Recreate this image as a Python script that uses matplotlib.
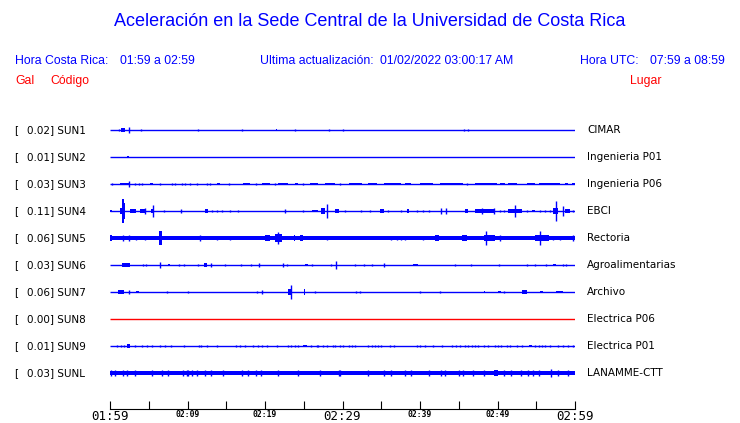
import matplotlib
matplotlib.use('Agg')
import matplotlib.pyplot as plt

titulo = 'Aceleración en la Sede Central de la Universidad de Costa Rica'
hora_cr = '01:59 a 02:59'
hora_utc = '07:59 a 08:59'
actualizacion = '01/02/2022 03:00:17 AM'

codigos = ['SUN1', 'SUN2', 'SUN3', 'SUN4', 'SUN5', 'SUN6', 'SUN7', 'SUN8', 'SUN9', 'SUNL']
gal = [0.02, 0.01, 0.03, 0.11, 0.06, 0.03, 0.06, 0.00, 0.01, 0.03]
lugares = ['CIMAR', 'Ingenieria P01', 'Ingenieria P06', 'EBCI', 'Rectoria',
           'Agroalimentarias', 'Archivo', 'Electrica P06', 'Electrica P01', 'LANAMME-CTT']
horas = ['01:59', '02:09', '02:19', '02:29', '02:39', '02:49', '02:59']

# ancho de la banda de ruido de fondo (fraccion de media fila)
ruido = [0, 0, 0, 0, 0.13, 0, 0, 0, 0, 0.12]

# eventos: (minuto, amplitud) o (min_ini, min_fin, amplitud)
sun1 = [(1.1, 0.07), (1.4, 1.9, 0.12), (2.4, 0.2), (4.0, 0.07), (11.4, 0.1), (17.0, 0.1),
        (21.4, 21.6, 0.1), (23.9, 0.07), (28.3, 0.1), (30.0, 0.07), (45.7, 0.1), (46.2, 0.1)]
sun2 = [(2.2, 2.4, 0.1)]
sun3 = [(0.2, 0.07), (1.3, 2.6, 0.1), (2.4, 0.25), (3.2, 0.07), (3.7, 0.07), (4.1, 0.07),
        (5.2, 5.6, 0.1), (6.5, 0.1), (8.0, 0.07), (8.4, 0.07), (9.3, 0.07), (9.7, 0.07),
        (10.3, 0.07), (11.2, 0.07), (12.5, 0.07), (12.9, 0.07), (13.8, 14.2, 0.1), (15.3, 0.07),
        (17.2, 18.1, 0.1), (18.9, 0.07), (19.6, 20.6, 0.1), (21.3, 0.07), (21.7, 23.0, 0.1),
        (23.9, 24.3, 0.07), (24.9, 0.07), (25.8, 26.9, 0.1), (27.7, 29.0, 0.1), (29.7, 0.07),
        (30.8, 32.5, 0.08), (33.3, 34.4, 0.08), (35.3, 37.6, 0.1), (38.1, 38.9, 0.1),
        (40.0, 41.7, 0.1), (42.6, 45.6, 0.1), (46.0, 0.07), (47.1, 49.9, 0.1), (50.3, 51.0, 0.1),
        (51.4, 52.5, 0.1), (53.8, 54.8, 0.1), (55.3, 58.1, 0.1), (58.7, 59.1, 0.1), (59.6, 60.0, 0.1)]
sun4 = [(0.0, 0.3, 0.1), (1.3, 1.9, 0.2), (1.6, 1.8, 0.86), (1.8, 1.9, 0.62), (2.6, 3.4, 0.12),
        (3.9, 4.7, 0.12), (4.5, 0.25), (5.3, 5.7, 0.12), (5.6, 0.42), (7.0, 0.05), (9.2, 0.12),
        (12.3, 12.7, 0.12), (13.1, 0.07), (13.8, 0.07), (14.4, 0.07), (15.5, 0.1), (16.5, 0.1),
        (22.6, 0.12), (24.9, 0.07), (26.0, 26.9, 0.07), (27.2, 27.7, 0.25), (28.0, 0.49),
        (29.0, 29.5, 0.12), (30.3, 0.1), (32.4, 0.07), (33.5, 0.07), (34.8, 35.4, 0.12),
        (35.9, 0.07), (37.6, 0.1), (38.3, 38.6, 0.12), (39.6, 0.1), (40.4, 0.1), (41.1, 0.1),
        (42.7, 0.2), (43.4, 0.2), (45.8, 46.2, 0.12), (47.1, 49.7, 0.12), (48.0, 0.2), (49.5, 0.2),
        (50.3, 0.07), (50.8, 0.07), (51.4, 53.1, 0.12), (52.3, 0.42), (53.8, 0.07),
        (54.4, 54.8, 0.1), (55.5, 0.07), (56.1, 0.07), (56.8, 0.07), (57.2, 57.8, 0.25),
        (57.5, 0.74), (58.4, 0.37), (58.7, 59.4, 0.12), (59.8, 0.07)]
sun5 = [(0.0, 0.2, 0.25), (1.7, 0.25), (2.4, 0.2), (3.4, 0.17), (4.5, 0.17), (5.4, 6.2, 0.17),
        (6.3, 6.7, 0.49), (11.6, 0.25), (13.8, 0.17), (15.5, 0.17), (20.0, 20.6, 0.25),
        (21.3, 22.2, 0.3), (21.7, 0.42), (23.7, 23.9, 0.25), (24.5, 24.9, 0.25), (28.0, 0.17),
        (36.3, 0.17), (37.0, 0.17), (37.6, 0.17), (38.1, 0.17), (40.4, 0.17), (41.9, 42.4, 0.2),
        (45.4, 46.0, 0.25), (48.2, 49.7, 0.25), (48.5, 0.49), (50.3, 0.25), (54.8, 56.6, 0.25),
        (55.5, 0.54), (57.2, 0.17), (58.1, 0.17), (59.8, 0.2)]
sun6 = [(1.6, 2.6, 0.12), (4.2, 0.1), (4.65, 0.1), (6.5, 0.2), (7.5, 7.8, 0.1), (8.9, 0.1),
        (9.55, 0.1), (11.3, 0.07), (12.1, 12.5, 0.12), (13.0, 0.17), (14.8, 0.1), (16.9, 0.1),
        (18.2, 0.07), (19.2, 0.12), (22.3, 0.17), (22.9, 0.07), (25.2, 25.6, 0.1), (26.1, 0.07),
        (28.5, 0.1), (29.2, 0.3), (31.6, 0.1), (32.8, 0.07), (33.8, 0.1), (35.4, 0.12),
        (39.1, 39.8, 0.1), (44.5, 0.1), (46.6, 0.1), (50.2, 0.07), (53.8, 0.07), (54.8, 0.05),
        (56.3, 0.05), (57.2, 57.5, 0.1), (58.4, 0.1), (58.9, 0.1)]
sun7 = [(1.0, 1.85, 0.12), (2.4, 0.15), (3.3, 3.7, 0.1), (7.3, 0.1), (10.0, 0.05), (19.0, 0.05),
        (19.6, 0.15), (23.0, 23.4, 0.25), (23.3, 0.49), (25.0, 25.2, 0.2), (26.5, 0.05),
        (31.8, 0.07), (32.3, 0.1), (40.0, 0.05), (42.6, 0.05), (48.2, 48.4, 0.1),
        (50.1, 50.5, 0.1), (50.8, 0.07), (53.1, 53.8, 0.15), (55.5, 55.9, 0.1), (57.6, 58.5, 0.07)]
sun8 = []
sun9 = [(0.86, 0.07), (1.38, 0.07), (1.85, 0.07), (2.15, 2.58, 0.12), (3.23, 0.07), (4.09, 0.07),
        (4.73, 0.07), (5.38, 0.07), (6.45, 0.07), (7.1, 0.07), (7.87, 0.07), (9.59, 0.07),
        (11.5, 0.07), (11.8, 0.07), (12.5, 0.07), (13.8, 0.07), (16.3, 0.07), (16.8, 0.07),
        (17.4, 0.07), (18.5, 0.07), (19.1, 0.07), (19.6, 0.07), (20.3, 0.07), (21.5, 0.07),
        (23.0, 0.07), (23.4, 0.07), (23.9, 0.07), (24.2, 0.07), (24.9, 25.4, 0.07), (25.9, 0.07),
        (26.7, 0.07), (26.9, 0.07), (27.5, 0.07), (28.0, 0.07), (28.8, 0.07), (29.0, 0.07),
        (29.7, 0.07), (30.1, 0.07), (30.8, 0.07), (31.2, 0.07), (31.6, 0.07), (33.3, 0.07),
        (33.8, 0.07), (34.2, 0.07), (34.6, 0.07), (35.0, 0.07), (36.1, 0.07), (36.6, 0.07),
        (39.6, 0.07), (40.0, 0.07), (40.6, 0.07), (41.7, 0.07), (42.8, 0.07), (44.1, 0.07),
        (44.7, 0.07), (45.2, 0.07), (45.8, 0.07), (46.2, 0.07), (46.7, 0.07), (47.1, 0.07),
        (47.5, 0.07), (48.2, 0.07), (48.8, 0.07), (49.7, 0.07), (50.1, 0.07), (50.5, 0.07),
        (51.2, 0.07), (51.6, 0.07), (52.5, 0.07), (53.1, 0.07), (54.0, 54.4, 0.07), (54.8, 0.07),
        (55.3, 0.07), (55.7, 0.07), (56.1, 0.07), (56.8, 0.07), (57.8, 0.07), (58.5, 0.07),
        (59.1, 0.07), (59.8, 0.07)]
sunl = [(0.1, 0.2), (0.65, 0.2), (1.72, 0.2), (2.24, 0.25), (3.23, 0.2), (5.38, 0.2), (6.67, 0.2),
        (7.53, 0.2), (9.46, 0.2), (9.89, 0.2), (10.1, 0.2), (10.6, 0.2), (11.2, 0.2), (12.3, 0.2),
        (13.0, 0.2), (14.6, 0.2), (17.0, 0.25), (17.8, 0.2), (18.9, 0.2), (19.5, 0.25), (21.7, 0.2),
        (24.3, 0.2), (27.1, 0.2), (29.5, 0.2), (29.7, 0.2), (33.3, 0.25), (35.3, 0.2), (36.3, 0.2),
        (38.1, 0.2), (38.8, 0.2), (41.1, 0.2), (42.7, 0.25), (43.2, 0.2), (45.0, 0.2), (45.6, 0.2),
        (46.9, 0.2), (48.2, 0.2), (49.5, 50.1, 0.2), (50.8, 0.2), (51.8, 0.2), (53.0, 0.2),
        (53.9, 0.2), (54.6, 0.2), (55.3, 0.2), (56.9, 0.3), (57.8, 0.2), (59.1, 0.2)]
eventos = [sun1, sun2, sun3, sun4, sun5, sun6, sun7, sun8, sun9, sunl]


def dibujar_traza(ax, y, evs, banda, color):
    ax.plot([0, 60], [y, y], color=color, lw=1.0, solid_capstyle='butt')
    if banda > 0:
        ax.fill_between([0, 60], y - banda * 0.5, y + banda * 0.5, color=color, lw=0)
    for ev in evs:
        if len(ev) == 2:
            t, a = ev
            ax.vlines(t, y - a * 0.5, y + a * 0.5, color=color, lw=1.0)
        else:
            t0, t1, a = ev
            ax.fill_between([t0, t1], y - a * 0.5, y + a * 0.5, color=color, lw=0)


W, H = 740, 423
fig = plt.figure(figsize=(W / 100, H / 100), dpi=100)
azul = '#0000ff'
rojo = '#ff0000'
sans = 'Liberation Sans'

fig.text(370 / W, 1 - 22 / H, titulo, color=azul, fontsize=13, family=sans, ha='center', va='center')
y1 = 1 - 61 / H
y2 = 1 - 81 / H
fig.text(15 / W, y1, 'Hora Costa Rica:', color=azul, fontsize=8.8, family=sans, va='center')
fig.text(120 / W, y1, hora_cr, color=azul, fontsize=8.8, family=sans, va='center')
fig.text(260 / W, y1, 'Ultima actualización:', color=azul, fontsize=8.8, family=sans, va='center')
fig.text(380 / W, y1, actualizacion, color=azul, fontsize=8.8, family=sans, va='center')
fig.text(580 / W, y1, 'Hora UTC:', color=azul, fontsize=8.8, family=sans, va='center')
fig.text(650 / W, y1, hora_utc, color=azul, fontsize=8.8, family=sans, va='center')
fig.text(15 / W, y2, 'Gal', color=rojo, fontsize=8.8, family=sans, va='center')
fig.text(50 / W, y2, 'Código', color=rojo, fontsize=8.8, family=sans, va='center')
fig.text(630 / W, y2, 'Lugar', color=rojo, fontsize=8.8, family=sans, va='center')

# trazas
ax = fig.add_axes([110 / W, (H - 386.5) / H, 465 / W, 270 / H])
ax.set_xlim(0, 60)
ax.set_ylim(-9.5, 0.5)
ax.axis('off')
for i in range(len(codigos)):
    y = -i
    color = rojo if gal[i] == 0 else azul
    dibujar_traza(ax, y, eventos[i], ruido[i], color)
    yf = 1 - (130 + 27 * i) / H
    fig.text(14 / W, yf, '[', fontsize=7.5, va='center')
    fig.text(27 / W, yf, '%.2f] %s' % (gal[i], codigos[i]), fontsize=7.5, va='center')
    fig.text(587 / W, yf, lugares[i], fontsize=7.5, va='center')

# eje de tiempo
ax2 = fig.add_axes([110 / W, (H - 409) / H, 465 / W, 0.001])
ax2.set_xlim(0, 60)
ax2.set_yticks([])
for s in ['left', 'right', 'top']:
    ax2.spines[s].set_visible(False)
ax2.spines['bottom'].set_linewidth(0.8)
ax2.set_xticks(range(0, 61, 5))
etiquetas = []
for k in range(13):
    etiquetas.append(horas[k // 2] if k % 2 == 0 else '')
ax2.set_xticklabels(etiquetas, family='DejaVu Sans Mono')
ax2.tick_params(axis='x', direction='in', length=6, width=0.8, pad=0.8)
for k, lab in enumerate(ax2.get_xticklabels()):
    if k in (0, 6, 12):
        lab.set_fontsize(9)
    else:
        lab.set_fontsize(5.8)
        lab.set_fontweight('bold')

fig.savefig('out.png', dpi=100)
